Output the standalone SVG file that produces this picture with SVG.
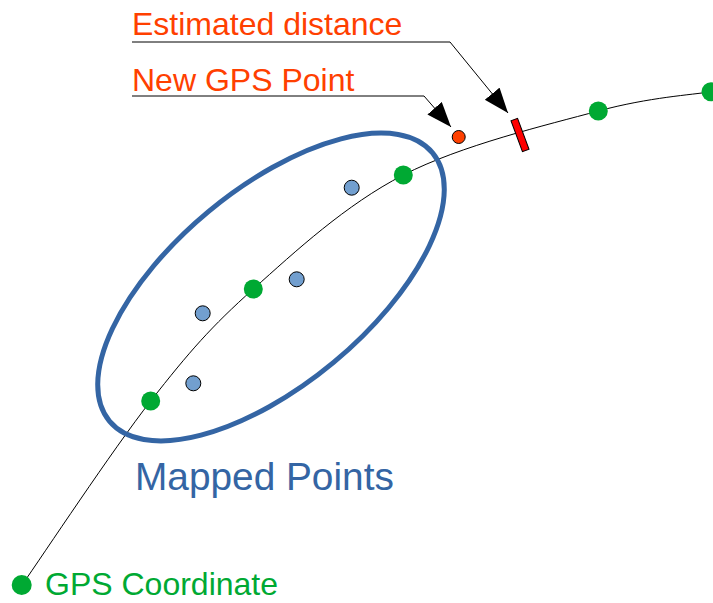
<svg xmlns="http://www.w3.org/2000/svg" width="713" height="603" viewBox="0 0 713 603">
<style>
.lbl{font-family:"Liberation Sans",Arial,sans-serif;font-size:32px}
.org{fill:#ff4000}
.gps{fill:#00a933}
.mapped{fill:#729fcf;stroke:#000;stroke-width:1}
.leader{fill:none;stroke:#000;stroke-width:1}
</style>
<defs>
<marker id="arr" markerUnits="userSpaceOnUse" markerWidth="26" markerHeight="20" viewBox="0 0 26 20" refX="25" refY="9.5" orient="auto">
<path d="M0,0 L25,9.5 L0,19 z" fill="#000"/>
</marker>
</defs>
<g id="connectors">
<path id="track" d="M22,585 C43.45,554.3 112.15,450.3 150.7,401 C189.25,351.67 211.2,326.67 253.3,289 C295.4,251.33 345.8,204.67 403.3,175 C460.8,145.33 547,124.9 598.3,111 C649.6,97.1 692.2,94.9 711,91.7" fill="none" stroke="#000" stroke-width="1"/>
<path id="leader-distance" class="leader" d="M132,42 H450 L508,113" marker-end="url(#arr)"/>
<path id="leader-newgps" class="leader" d="M132,96 H424 L451,127" marker-end="url(#arr)"/>
</g>
<g id="mapped-group">
<ellipse cx="271" cy="287" rx="210" ry="98" transform="rotate(-39.7 271 287)" fill="none" stroke="#3465a4" stroke-width="5"/>
<text class="lbl" x="135" y="490" fill="#3465a4" style="font-size:38.8px">Mapped Points</text>
</g>
<g id="gps-points">
<circle class="gps" cx="150.7" cy="401" r="9.5"/>
<circle class="gps" cx="253.3" cy="289" r="9.5"/>
<circle class="gps" cx="403.3" cy="175" r="9.5"/>
<circle class="gps" cx="598.3" cy="111" r="9.5"/>
<circle class="gps" cx="711" cy="91.7" r="9.5"/>
</g>
<g id="mapped-points">
<circle class="mapped" cx="351.7" cy="187.7" r="7.5"/>
<circle class="mapped" cx="296.7" cy="279.3" r="7.5"/>
<circle class="mapped" cx="202.7" cy="313.3" r="7.5"/>
<circle class="mapped" cx="193.3" cy="383.3" r="7.5"/>
</g>
<g id="new-gps-point">
<circle cx="458.7" cy="137" r="6.5" fill="#ff4000" stroke="#000" stroke-width="1"/>
<text class="lbl org" x="132" y="90.5">New GPS Point</text>
</g>
<g id="estimated-distance">
<rect x="516.5" y="118.5" width="7" height="33" transform="rotate(-20.3 520 135)" fill="#ff0000" stroke="#000" stroke-width="1"/>
<text class="lbl org" x="132" y="35">Estimated distance</text>
</g>
<g id="legend-gps">
<circle class="gps" cx="21.7" cy="585" r="10"/>
<text class="lbl" x="45" y="595" fill="#00a933">GPS Coordinate</text>
</g>
</svg>
